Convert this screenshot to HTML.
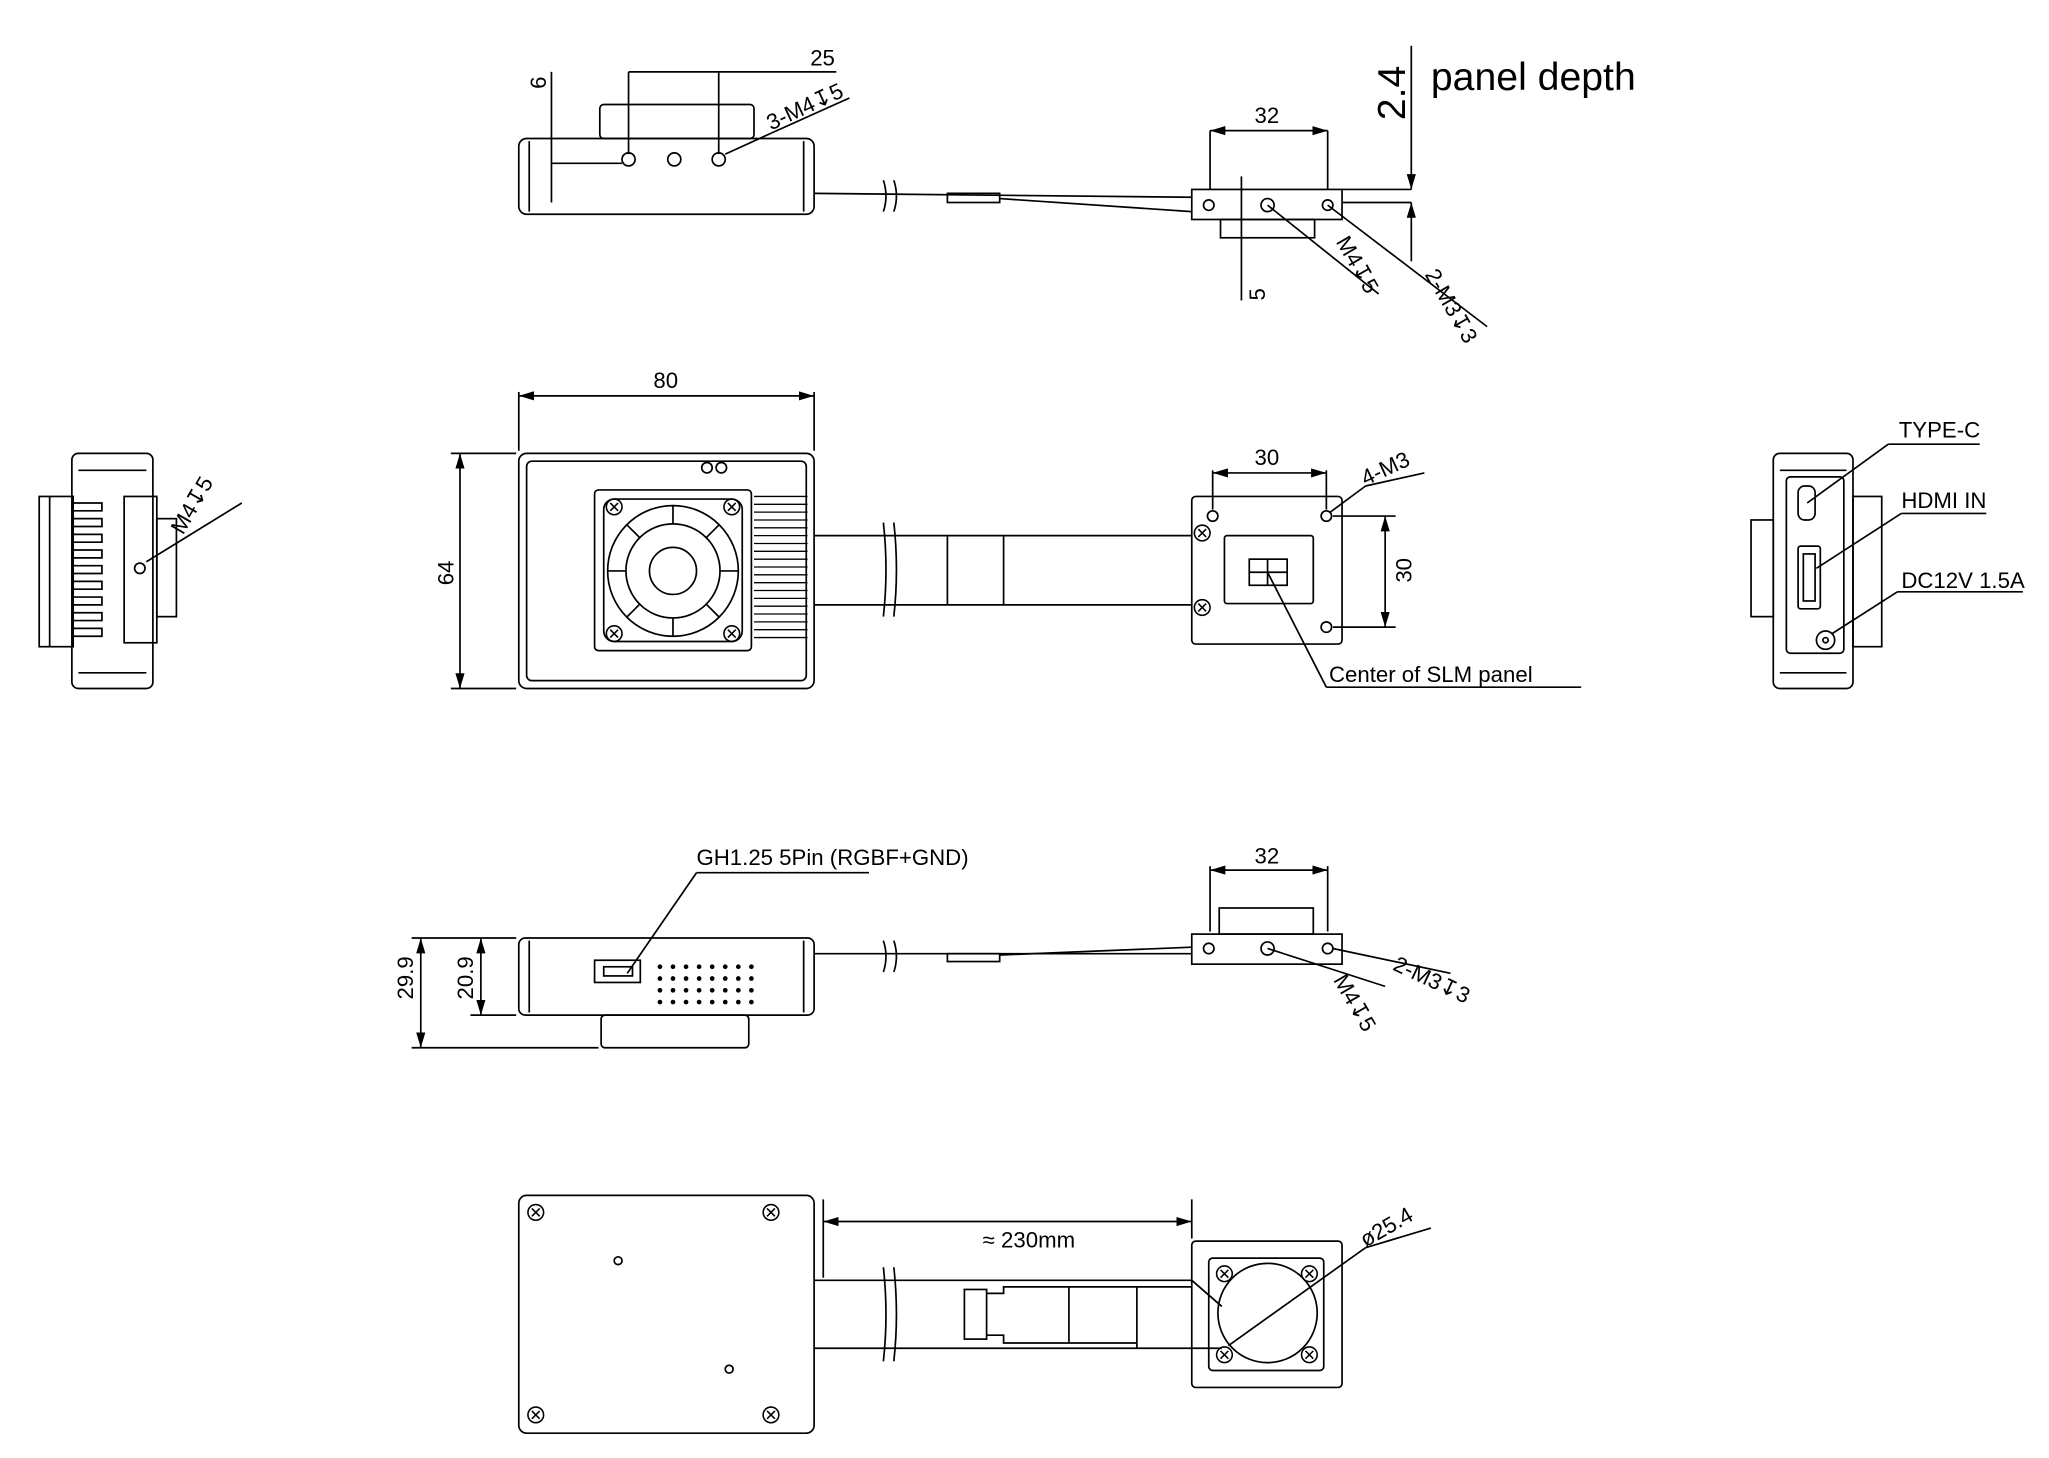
<!DOCTYPE html>
<html><head><meta charset="utf-8">
<style>
html,body{margin:0;padding:0;background:#fff;width:2049px;height:1458px;overflow:hidden}
svg{display:block}
text{font-family:"Liberation Sans","DejaVu Sans",sans-serif;fill:#000}
</style></head><body>
<svg width="2049" height="1458" viewBox="0 0 1568 1116" preserveAspectRatio="none" xmlns="http://www.w3.org/2000/svg">
<defs>
<marker id="a" viewBox="0 0 10 10" refX="10" refY="5" markerWidth="9" markerHeight="9" orient="auto-start-reverse"><path d="M0,2 L10,5 L0,8 z" fill="#000"/></marker>
<g id="scr"><circle r="6" fill="none" stroke="#000" stroke-width="1.2"/><path d="M-3,-3L3,3M-3,3L3,-3" stroke="#000" stroke-width="1.2"/></g>
</defs>
<g fill="none" stroke="#000" stroke-width="1.3">
<!-- ROW 1 -->
<rect x="397" y="106" width="226" height="58" rx="6"/>
<line x1="405" y1="108" x2="405" y2="162"/><line x1="615" y1="108" x2="615" y2="162"/>
<rect x="459" y="80" width="118" height="26" rx="3"/>
<circle cx="481" cy="122" r="5"/><circle cx="516" cy="122" r="5"/><circle cx="550" cy="122" r="5"/>
<line x1="623" y1="148" x2="912" y2="151"/>
<path d="M676,138 q4,12 0,24 M684,138 q4,12 0,24"/>
<rect x="725" y="148" width="40" height="7"/>
<path d="M765,152 L912,162"/>
<rect x="912" y="145" width="115" height="23"/>
<rect x="934" y="168" width="72" height="14"/>
<circle cx="925" cy="157" r="4"/><circle cx="970" cy="157" r="5"/><circle cx="1016" cy="157" r="4"/>
<line x1="1027" y1="145" x2="1080" y2="145"/><line x1="1027" y1="155" x2="1080" y2="155"/>
<line x1="1080" y1="35" x2="1080" y2="145" marker-end="url(#a)"/>
<line x1="1080" y1="200" x2="1080" y2="155" marker-end="url(#a)"/>
<line x1="481" y1="55" x2="481" y2="118"/><line x1="550" y1="55" x2="550" y2="118"/>
<line x1="481" y1="55" x2="640" y2="55"/>
<line x1="422" y1="55" x2="422" y2="155"/><line x1="422" y1="125" x2="476" y2="125"/>
<line x1="555" y1="118" x2="590" y2="102"/><line x1="590" y1="102" x2="650" y2="75"/>
<line x1="926" y1="100" x2="1016" y2="100" marker-start="url(#a)" marker-end="url(#a)"/>
<line x1="926" y1="100" x2="926" y2="145"/><line x1="1016" y1="100" x2="1016" y2="145"/>
<line x1="950" y1="135" x2="950" y2="230"/>
<line x1="970" y1="157" x2="1055" y2="225"/>
<line x1="1016" y1="157" x2="1138" y2="250"/>
<!-- ROW 2 left side -->
<rect x="55" y="347" width="62" height="180" rx="5"/>
<line x1="60" y1="360" x2="112" y2="360"/><line x1="60" y1="515" x2="112" y2="515"/>
<rect x="30" y="380" width="26" height="115"/>
<line x1="38" y1="380" x2="38" y2="495"/>
<path d="M56,385 H78 V391 H56 M56,397 H78 V403 H56 M56,409 H78 V415 H56 M56,421 H78 V427 H56 M56,433 H78 V439 H56 M56,445 H78 V451 H56 M56,457 H78 V463 H56 M56,469 H78 V475 H56 M56,481 H78 V487 H56"/>
<rect x="95" y="380" width="25" height="112"/>
<rect x="120" y="397" width="15" height="75"/>
<circle cx="107" cy="435" r="4"/>
<line x1="112" y1="430" x2="185" y2="385"/>
<!-- main front -->
<rect x="397" y="347" width="226" height="180" rx="6"/>
<rect x="403" y="353" width="214" height="168" rx="4"/>
<line x1="397" y1="300" x2="397" y2="345"/><line x1="623" y1="300" x2="623" y2="345"/>
<line x1="397" y1="303" x2="623" y2="303" marker-start="url(#a)" marker-end="url(#a)"/>
<line x1="345" y1="347" x2="395" y2="347"/><line x1="345" y1="527" x2="395" y2="527"/>
<line x1="352" y1="347" x2="352" y2="527" marker-start="url(#a)" marker-end="url(#a)"/>
<circle cx="541" cy="358" r="4"/><circle cx="552" cy="358" r="4"/>
<rect x="455" y="375" width="120" height="123" rx="3"/>
<rect x="462" y="382" width="106" height="109" rx="8"/>
<circle cx="515" cy="437" r="50"/><circle cx="515" cy="437" r="36"/><circle cx="515" cy="437" r="18"/>
<path d="M515,387 V401 M515,473 V487 M465,437 H479 M551,437 H565 M480,402 L490,412 M550,402 L540,412 M480,472 L490,462 M550,472 L540,462"/>
<g stroke-width="1"><path d="M577,380 H618 M577,386 H618 M577,392 H618 M577,398 H618 M577,404 H618 M577,410 H618 M577,416 H618 M577,422 H618 M577,428 H618 M577,434 H618 M577,440 H618 M577,446 H618 M577,452 H618 M577,458 H618 M577,464 H618 M577,470 H618 M577,476 H618 M577,482 H618 M577,488 H618"/></g>
<line x1="623" y1="410" x2="912" y2="410"/><line x1="623" y1="463" x2="912" y2="463"/>
<path d="M676,400 q4,36 0,72 M684,400 q4,36 0,72"/>
<line x1="725" y1="410" x2="725" y2="463"/><line x1="768" y1="410" x2="768" y2="463"/>
<rect x="912" y="380" width="115" height="113" rx="3"/>
<rect x="937" y="410" width="68" height="52" rx="2"/>
<rect x="956" y="428" width="29" height="20"/><line x1="970" y1="428" x2="970" y2="448"/><line x1="956" y1="438" x2="985" y2="438"/>
<circle cx="928" cy="395" r="4"/><circle cx="1015" cy="395" r="4"/><circle cx="1015" cy="480" r="4"/>
<use href="#scr" x="920" y="408"/><use href="#scr" x="920" y="465"/>
<line x1="928" y1="360" x2="928" y2="390"/><line x1="1015" y1="360" x2="1015" y2="390"/>
<line x1="928" y1="362" x2="1015" y2="362" marker-start="url(#a)" marker-end="url(#a)"/>
<line x1="1018" y1="392" x2="1045" y2="372"/><line x1="1045" y1="372" x2="1090" y2="362"/>
<line x1="1020" y1="395" x2="1068" y2="395"/><line x1="1020" y1="480" x2="1068" y2="480"/>
<line x1="1060" y1="395" x2="1060" y2="480" marker-start="url(#a)" marker-end="url(#a)"/>
<line x1="970" y1="438" x2="1015" y2="526"/><line x1="1015" y1="526" x2="1210" y2="526"/>
<!-- right side -->
<rect x="1357" y="347" width="61" height="180" rx="5"/>
<line x1="1362" y1="360" x2="1413" y2="360"/><line x1="1362" y1="515" x2="1413" y2="515"/>
<rect x="1367" y="365" width="44" height="135" rx="3"/>
<rect x="1340" y="398" width="17" height="74"/>
<rect x="1418" y="380" width="22" height="115"/>
<rect x="1376" y="372" width="13" height="26" rx="5"/>
<rect x="1376" y="418" width="17" height="48" rx="2"/><rect x="1380" y="424" width="9" height="36"/>
<circle cx="1397" cy="490" r="7"/><circle cx="1397" cy="490" r="2"/>
<line x1="1383" y1="385" x2="1445" y2="340"/><line x1="1445" y1="340" x2="1515" y2="340"/>
<line x1="1390" y1="435" x2="1455" y2="393"/><line x1="1455" y1="393" x2="1520" y2="393"/>
<line x1="1402" y1="485" x2="1452" y2="453"/><line x1="1452" y1="453" x2="1548" y2="453"/>
<!-- ROW 3 -->
<rect x="397" y="718" width="226" height="59" rx="5"/>
<line x1="405" y1="720" x2="405" y2="775"/><line x1="615" y1="720" x2="615" y2="775"/>
<rect x="460" y="777" width="113" height="25" rx="3"/>
<rect x="455" y="735" width="35" height="17"/><rect x="462" y="740" width="22" height="7"/>
<line x1="623" y1="730" x2="912" y2="730"/>
<path d="M676,720 q4,12 0,24 M684,720 q4,12 0,24"/>
<rect x="725" y="730" width="40" height="6"/>
<path d="M765,731 L912,725"/>
<rect x="912" y="715" width="115" height="23"/>
<rect x="933" y="695" width="72" height="20"/>
<circle cx="925" cy="726" r="4"/><circle cx="970" cy="726" r="5"/><circle cx="1016" cy="726" r="4"/>
<line x1="926" y1="663" x2="926" y2="713"/><line x1="1016" y1="663" x2="1016" y2="713"/>
<line x1="926" y1="666" x2="1016" y2="666" marker-start="url(#a)" marker-end="url(#a)"/>
<line x1="970" y1="726" x2="1060" y2="755"/>
<line x1="1020" y1="726" x2="1110" y2="745"/>
<line x1="315" y1="718" x2="395" y2="718"/><line x1="315" y1="802" x2="458" y2="802"/>
<line x1="360" y1="777" x2="395" y2="777"/>
<line x1="322" y1="718" x2="322" y2="802" marker-start="url(#a)" marker-end="url(#a)"/>
<line x1="368" y1="718" x2="368" y2="777" marker-start="url(#a)" marker-end="url(#a)"/>
<line x1="480" y1="745" x2="533" y2="668"/><line x1="533" y1="668" x2="665" y2="668"/>
<!-- ROW 4 -->
<rect x="397" y="915" width="226" height="182" rx="6"/>
<use href="#scr" x="410" y="928"/><use href="#scr" x="590" y="928"/><use href="#scr" x="410" y="1083"/><use href="#scr" x="590" y="1083"/>
<circle cx="473" cy="965" r="3"/><circle cx="558" cy="1048" r="3"/>
<line x1="623" y1="980" x2="912" y2="980"/><line x1="623" y1="1032" x2="935" y2="1032"/>
<path d="M676,970 q4,36 0,72 M684,970 q4,36 0,72"/>
<rect x="738" y="987" width="17" height="38"/>
<path d="M755,990 H768 V985 H912 M755,1022 H768 V1028 H870"/>
<line x1="818" y1="985" x2="818" y2="1028"/><line x1="870" y1="985" x2="870" y2="1032"/>
<line x1="912" y1="980" x2="935" y2="1000"/>
<rect x="912" y="950" width="115" height="112" rx="3"/>
<rect x="925" y="963" width="88" height="86" rx="3"/>
<circle cx="970" cy="1005" r="38"/>
<use href="#scr" x="937" y="975"/><use href="#scr" x="1002" y="975"/><use href="#scr" x="937" y="1037"/><use href="#scr" x="1002" y="1037"/>
<line x1="630" y1="918" x2="630" y2="978"/><line x1="912" y1="918" x2="912" y2="948"/>
<line x1="630" y1="935" x2="912" y2="935" marker-start="url(#a)" marker-end="url(#a)"/>
<line x1="940" y1="1030" x2="1045" y2="955"/><line x1="1045" y1="955" x2="1095" y2="940"/>
</g>
<g font-size="17">
<text x="620" y="50">25</text>
<text x="418" y="68" transform="rotate(-90 418 68)">6</text>
<text x="590" y="100" transform="rotate(-25 590 100)">3-M4↧5</text>
<text x="960" y="94">32</text>
<text x="1075" y="92" font-size="30" transform="rotate(-90 1075 92)">2.4</text>
<text x="1095" y="69" font-size="30">panel depth</text>
<text x="968" y="230" transform="rotate(-90 968 230)">5</text>
<text x="1022" y="185" transform="rotate(60 1022 185)">M4↧5</text>
<text x="1090" y="210" transform="rotate(60 1090 210)">2-M3↧3</text>
<text x="140" y="410" transform="rotate(-60 140 410)">M4↧5</text>
<text x="500" y="297">80</text>
<text x="347" y="448" transform="rotate(-90 347 448)">64</text>
<text x="960" y="356">30</text>
<text x="1045" y="372" transform="rotate(-25 1045 372)">4-M3</text>
<text x="1080" y="446" transform="rotate(-90 1080 446)">30</text>
<text x="1017" y="522">Center of SLM panel</text>
<text x="1453" y="335">TYPE-C</text>
<text x="1455" y="389">HDMI IN</text>
<text x="1455" y="450">DC12V 1.5A</text>
<text x="533" y="662">GH1.25 5Pin (RGBF+GND)</text>
<text x="960" y="661">32</text>
<text x="316" y="765" transform="rotate(-90 316 765)">29.9</text>
<text x="362" y="765" transform="rotate(-90 362 765)">20.9</text>
<text x="1020" y="750" transform="rotate(60 1020 750)">M4↧5</text>
<text x="1065" y="742" transform="rotate(25 1065 742)">2-M3↧3</text>
<text x="752" y="955">≈ 230mm</text>
<text x="1045" y="955" transform="rotate(-30 1045 955)">ø25.4</text>
</g>
<g fill="#000">
<circle cx="505" cy="740" r="1.8"/><circle cx="515" cy="740" r="1.8"/><circle cx="525" cy="740" r="1.8"/><circle cx="535" cy="740" r="1.8"/><circle cx="545" cy="740" r="1.8"/><circle cx="555" cy="740" r="1.8"/><circle cx="565" cy="740" r="1.8"/><circle cx="575" cy="740" r="1.8"/>
<circle cx="505" cy="749" r="1.8"/><circle cx="515" cy="749" r="1.8"/><circle cx="525" cy="749" r="1.8"/><circle cx="535" cy="749" r="1.8"/><circle cx="545" cy="749" r="1.8"/><circle cx="555" cy="749" r="1.8"/><circle cx="565" cy="749" r="1.8"/><circle cx="575" cy="749" r="1.8"/>
<circle cx="505" cy="758" r="1.8"/><circle cx="515" cy="758" r="1.8"/><circle cx="525" cy="758" r="1.8"/><circle cx="535" cy="758" r="1.8"/><circle cx="545" cy="758" r="1.8"/><circle cx="555" cy="758" r="1.8"/><circle cx="565" cy="758" r="1.8"/><circle cx="575" cy="758" r="1.8"/>
<circle cx="505" cy="767" r="1.8"/><circle cx="515" cy="767" r="1.8"/><circle cx="525" cy="767" r="1.8"/><circle cx="535" cy="767" r="1.8"/><circle cx="545" cy="767" r="1.8"/><circle cx="555" cy="767" r="1.8"/><circle cx="565" cy="767" r="1.8"/><circle cx="575" cy="767" r="1.8"/>
</g>
<g><use href="#scr" x="470" y="388"/><use href="#scr" x="560" y="388"/><use href="#scr" x="470" y="485"/><use href="#scr" x="560" y="485"/></g>
</svg>
</body></html>
